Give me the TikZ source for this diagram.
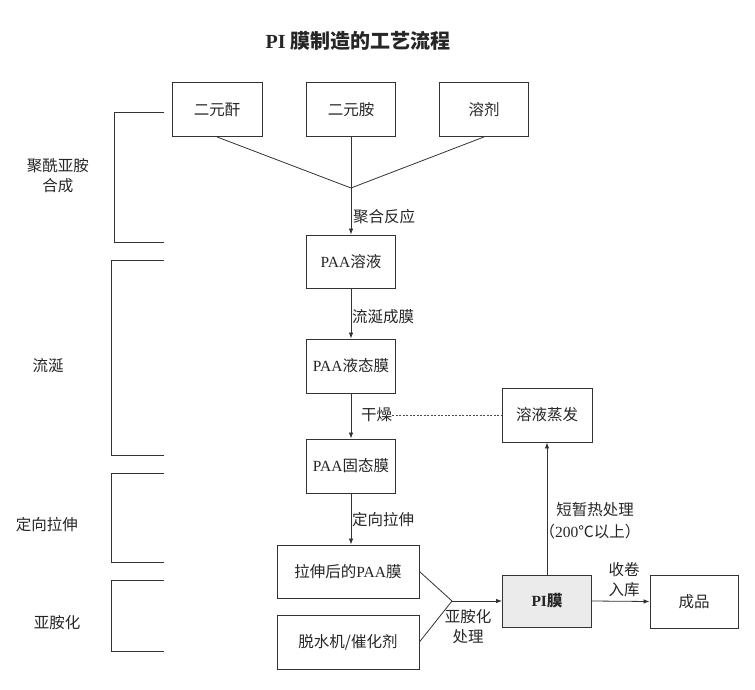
\documentclass[tikz,border=0pt]{standalone}
\usepackage{fontspec}
\setmainfont{Liberation Serif}
\newfontfamily\cjk{Noto Sans CJK SC}
\usetikzlibrary{arrows.meta}
\newcommand\latn[1]{{\rmfamily #1}}
\begin{document}
\begin{tikzpicture}[x=1pt,y=-1pt,
  every node/.style={font=\cjk\fontsize{15.5}{20}\selectfont, text=black!85},
  box/.style={draw=black!80, line width=0.9pt, minimum width=89pt, minimum height=54pt, inner sep=0pt},
  widebox/.style={box, minimum width=142pt},
  ln/.style={draw=black!80, line width=0.8pt},
  arr/.style={ln, -{Latex[length=6pt,width=4.5pt]}},
  lbl/.style={inner sep=0pt, anchor=west},
  side/.style={inner sep=0pt, align=center},
]
\useasboundingbox[fill=white] (0,0) rectangle (755,690);

% title
\node[font=\cjk\bfseries\fontsize{20}{24}\selectfont] (title) at (358,41) {\latn{PI} 膜制造的工艺流程};

% boxes
\node[box, minimum width=90pt] (a1) at (217,109.5) {二元酐};
\node[box] (a2) at (351,109.5) {二元胺};
\node[box] (a3) at (484,109.5) {溶剂};
\node[box, minimum height=53pt] (p1) at (351,261.5) {\latn{PAA}溶液};
\node[box] (p2) at (351,366) {\latn{PAA}液态膜};
\node[box] (p3) at (351,466) {\latn{PAA}固态膜};
\node[widebox, minimum height=53pt] (st) at (348,571.5) {拉伸后的\latn{PAA}膜};
\node[widebox] (cat) at (348,642) {脱水机/催化剂};
\node[box, minimum width=90pt] (ev) at (547,415) {溶液蒸发};
\node[box, minimum height=52pt, fill=black!8, font=\cjk\bfseries\fontsize{15.5}{20}\selectfont] (pi) at (547,601) {\latn{PI}膜};
\node[box, minimum width=88pt, minimum height=53pt] (pr) at (694,601.5) {成品};

% junctions
\coordinate (j1) at (351,188);
\coordinate (j2) at (452,601);

% synthesis
\draw[ln] (a1.south) -- (j1);
\draw[ln] (a3.south) -- (j1);
\draw[arr] (a2.south) -- (p1.north);
\node[lbl] (l1) at (353,217) {聚合反应};

% casting
\draw[arr] (p1.south) -- (p2.north);
\node[lbl] (l2) at (352,317) {流涎成膜};
\draw[arr] (p2.south) -- (p3.north);
\node[lbl] (l3) at (361,415) {干燥};
\draw[draw=black!70, line width=0.8pt, dash pattern=on 2pt off 1.5pt] (l3.east) -- (ev.west);

% stretching
\draw[arr] (p3.south) -- (st.north -| p3.south);
\node[lbl] (l4) at (352,520) {定向拉伸};

% imidization
\draw[ln] (st.east) -- (j2);
\draw[ln] (cat.east) -- (j2);
\draw[arr] (j2) -- (pi.west);
\node[side] (l5) at (468,627) {亚胺化\\处理};

% heat treatment
\draw[arr] (pi.north) -- (ev.south);
\node[side] (l6) at (595,510) {短暂热处理};
\node[side] (l7) at (590,532) {（\latn{200}℃以上）};

% winding
\draw[arr] (pi.east) -- (pr.west);
\node[side] (l8) at (624,580) {收卷\\入库};

% left brackets
\draw[ln] (164,112) -- (114,112) -- (114,242) -- (164,242);
\draw[ln] (164,260) -- (111,260) -- (111,455) -- (164,455);
\draw[ln] (164,473) -- (111,473) -- (111,562) -- (164,562);
\draw[ln] (164,580) -- (111,580) -- (111,651) -- (164,651);
\node[side] (s1) at (58,176) {聚酰亚胺\\合成};
\node[side] (s2) at (48,366) {流涎};
\node[side] (s3) at (47,525) {定向拉伸};
\node[side] (s4) at (57,623) {亚胺化};
\end{tikzpicture}
\end{document}
